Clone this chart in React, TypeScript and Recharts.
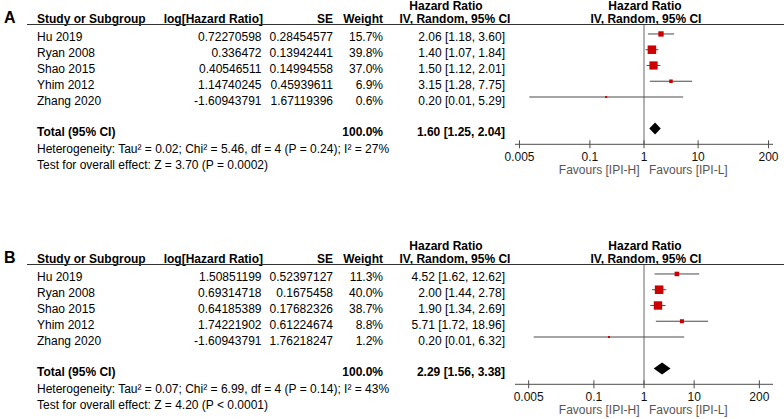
import React from 'react';
import { ComposedChart, Scatter, ErrorBar, XAxis, YAxis, ReferenceLine, Area } from 'recharts';

// ---------- data ----------
const studies = ['Hu 2019', 'Ryan 2008', 'Shao 2015', 'Yhim 2012', 'Zhang 2020'];

const logHrA = ['0.72270598', '0.336472', '0.40546511', '1.14740245', '-1.60943791'];
const seA = ['0.28454577', '0.13942441', '0.14994558', '0.45939611', '1.67119396'];
const weightA = [15.7, 39.8, 37.0, 6.9, 0.6];
const hrA = [2.06, 1.4, 1.5, 3.15, 0.2];
const loA = [1.18, 1.07, 1.12, 1.28, 0.0076];
const hiA = [3.6, 1.84, 2.01, 7.75, 5.29];
const totalA = [1.6, 1.25, 2.04]; // HR, lower, upper
const hetA = 'Heterogeneity: Tau\u00b2 = 0.02; Chi\u00b2 = 5.46, df = 4 (P = 0.24); I\u00b2 = 27%';
const testA = 'Test for overall effect: Z = 3.70 (P = 0.0002)';

const logHrB = ['1.50851199', '0.69314718', '0.64185389', '1.74221902', '-1.60943791'];
const seB = ['0.52397127', '0.1675458', '0.17682326', '0.61224674', '1.76218247'];
const weightB = [11.3, 40.0, 38.7, 8.8, 1.2];
const hrB = [4.52, 2.0, 1.9, 5.71, 0.2];
const loB = [1.62, 1.44, 1.34, 1.72, 0.0063];
const hiB = [12.62, 2.78, 2.69, 18.96, 6.32];
const totalB = [2.29, 1.56, 3.38];
const hetB = 'Heterogeneity: Tau\u00b2 = 0.07; Chi\u00b2 = 6.99, df = 4 (P = 0.14); I\u00b2 = 43%';
const testB = 'Test for overall effect: Z = 4.20 (P < 0.0001)';

const axisTicks = [0.005, 0.1, 1, 10, 200];
const favoursLeft = 'Favours [IPI-H]';
const favoursRight = 'Favours [IPI-L]';

// ---------- layout / style ----------
const FONT = '"Liberation Sans", Arial, Helvetica, sans-serif';
const W = 784;
const HEADER = -0.6;
const TOTAL_ROW = 6;
const Y_MAX = 7;
const DIAMOND_HALF = 0.38;
const RED = '#cc0000';

type PanelData = {
  letter: string;
  logHr: string[];
  se: string[];
  weight: number[];
  hr: number[];
  lo: number[];
  hi: number[];
  total: number[];
  het: string;
  test: string;
  domain: [number, number];
};

const panels: PanelData[] = [
  { letter: 'A', logHr: logHrA, se: seA, weight: weightA, hr: hrA, lo: loA, hi: hiA, total: totalA, het: hetA, test: testA, domain: [0.00413, 242] },
  { letter: 'B', logHr: logHrB, se: seB, weight: weightB, hr: hrB, lo: loB, hi: hiB, total: totalB, het: hetB, test: testB, domain: [0.00267, 374] },
];

const T = (props: any) => (
  <text fontFamily={FONT} fontSize={12} fill="#000" {...props} />
);

const ci = (h: number, l: number, u: number) => `${h.toFixed(2)} [${l.toFixed(2)}, ${u.toFixed(2)}]`;

const RowTick = (props: any) => {
  const { y, payload, p } = props;
  const v = payload.value;
  if (v === HEADER) {
    return (
      <g>
        <text x={4} y={y - 1.5} fontFamily={FONT} fontSize={16} fontWeight="bold" fill="#000">{p.letter}</text>
        <T x={37} y={y - 2} fontWeight="bold">Study or Subgroup</T>
        <T x={263} y={y - 2} fontWeight="bold" textAnchor="end">log[Hazard Ratio]</T>
        <T x={333} y={y - 2} fontWeight="bold" textAnchor="end">SE</T>
        <T x={383} y={y - 2} fontWeight="bold" textAnchor="end">Weight</T>
        <T x={446} y={y - 14.8} fontWeight="bold" textAnchor="middle">Hazard Ratio</T>
        <T x={455} y={y - 2} fontWeight="bold" textAnchor="middle">IV, Random, 95% CI</T>
        <T x={645} y={y - 14.8} fontWeight="bold" textAnchor="middle">Hazard Ratio</T>
        <T x={646} y={y - 2} fontWeight="bold" textAnchor="middle">IV, Random, 95% CI</T>
        <line x1={27} x2={W} y1={y} y2={y} stroke="#333" strokeWidth={1} />
      </g>
    );
  }
  if (v === TOTAL_ROW) {
    const b = y + 7.5;
    return (
      <g>
        <T x={37} y={b} fontWeight="bold">Total (95% CI)</T>
        <T x={383} y={b} fontWeight="bold" textAnchor="end">100.0%</T>
        <T x={505} y={b} fontWeight="bold" textAnchor="end">{ci(p.total[0], p.total[1], p.total[2])}</T>
        <T x={37} y={b + 16.7}>{p.het}</T>
        <T x={37} y={b + 32.7}>{p.test}</T>
      </g>
    );
  }
  const i = v as number;
  const b = y + 7.5;
  return (
    <g>
      <T x={37} y={b}>{studies[i]}</T>
      <T x={261.5} y={b} textAnchor="end">{p.logHr[i]}</T>
      <T x={333} y={b} textAnchor="end">{p.se[i]}</T>
      <T x={383} y={b} textAnchor="end">{p.weight[i].toFixed(1)}%</T>
      <T x={505} y={b} textAnchor="end">{ci(p.hr[i], p.lo[i], p.hi[i])}</T>
    </g>
  );
};

const AxisTick = (props: any) => {
  const { x, y, payload } = props;
  const v = payload.value;
  return (
    <g>
      <line x1={x} x2={x} y1={y - 4} y2={y + 4} stroke="#4d4d4d" strokeWidth={1} />
      <T x={x} y={y + 17} textAnchor="middle" fill="#111">{String(v)}</T>
      {v === 1 && (
        <>
          <T x={x - 4.5} y={y + 29.5} textAnchor="end" fill="#555">{favoursLeft}</T>
          <T x={x + 5} y={y + 29.5} textAnchor="start" fill="#555">{favoursRight}</T>
        </>
      )}
    </g>
  );
};

const Square = (props: any) => {
  const { cx, cy, payload } = props;
  const s = Math.max(2, Math.sqrt(payload.w) * 1.35);
  return <rect x={cx - s / 2} y={cy - s / 2} width={s} height={s} fill={RED} />;
};

const Empty = () => <g />;

function Panel({ p, pad }: { p: PanelData; pad: number }) {
  const rows = p.hr.map((h, i) => ({ x: h, y: i, w: p.weight[i], err: [h - p.lo[i], p.hi[i] - h] }));
  const diamond = [
    { x: p.total[1], d: [TOTAL_ROW, TOTAL_ROW] },
    { x: p.total[0], d: [TOTAL_ROW - DIAMOND_HALF, TOTAL_ROW + DIAMOND_HALF] },
    { x: p.total[2], d: [TOTAL_ROW, TOTAL_ROW] },
  ];
  return (
    <ComposedChart
      width={W}
      height={179 + pad}
      data={diamond}
      margin={{ top: 24.5 + pad, right: 11, bottom: 4.7, left: 505 }}
    >
      <XAxis
        dataKey="x"
        type="number"
        scale="log"
        domain={p.domain}
        allowDataOverflow
        ticks={axisTicks}
        interval={0}
        tickLine={false}
        tickSize={0}
        tickMargin={0}
        height={30}
        axisLine={{ stroke: '#4d4d4d', strokeWidth: 1 }}
        tick={<AxisTick />}
      />
      <YAxis
        dataKey="y"
        type="number"
        reversed
        domain={[HEADER, Y_MAX]}
        allowDataOverflow
        ticks={[HEADER, 0, 1, 2, 3, 4, TOTAL_ROW]}
        interval={0}
        width={10}
        axisLine={false}
        tickLine={false}
        tick={<RowTick p={p} />}
      />
      <ReferenceLine x={1} stroke="#808080" strokeWidth={1.2} ifOverflow="extendDomain" />
      <Area
        dataKey="d"
        type="linear"
        fill="#000"
        fillOpacity={1}
        stroke="none"
        dot={false}
        activeDot={false}
        isAnimationActive={false}
      />
      <Scatter data={rows} shape={<Empty />} isAnimationActive={false}>
        <ErrorBar dataKey="err" direction="x" width={0} stroke="#4a4a4a" strokeWidth={1} isAnimationActive={false} />
      </Scatter>
      <Scatter data={rows} shape={<Square />} isAnimationActive={false} />
    </ComposedChart>
  );
}

export default function App() {
  return (
    <div style={{ position: 'absolute', left: 0, top: 0, width: W, height: 419, background: '#fff', overflow: 'hidden' }}>
      <div style={{ position: 'absolute', left: 0, top: 0 }}>
        <Panel p={panels[0]} pad={0} />
      </div>
      <div style={{ position: 'absolute', left: 0, top: 230 }}>
        <Panel p={panels[1]} pad={10} />
      </div>
    </div>
  );
}
